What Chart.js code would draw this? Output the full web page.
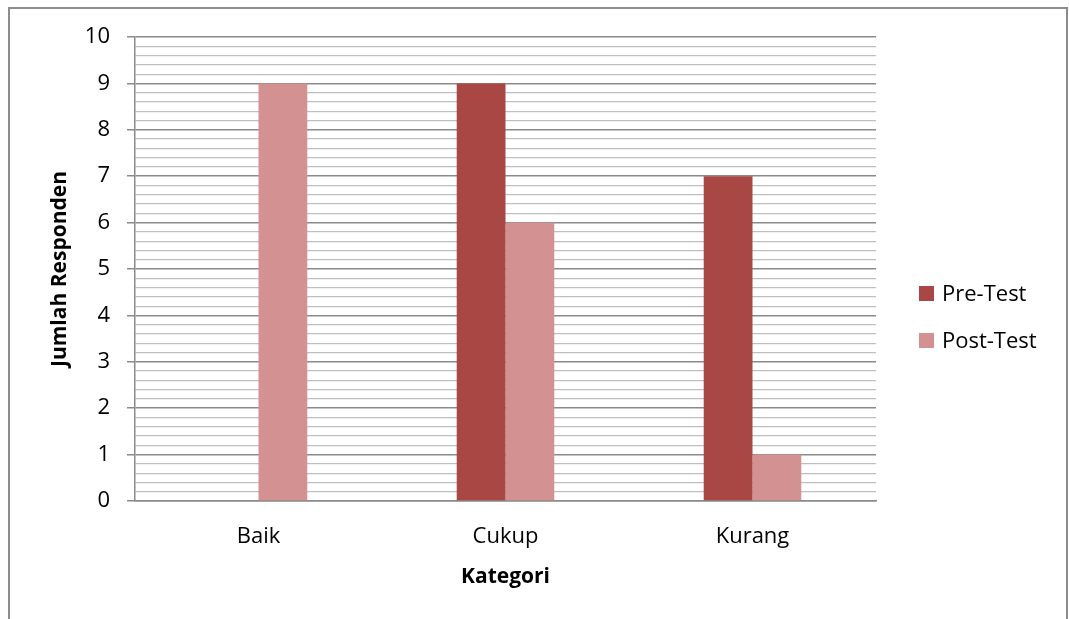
<!DOCTYPE html>
<html>
<head>
    <title>Jumlah Responden per Kategori</title>
    <script src="https://cdn.jsdelivr.net/npm/chart.js"></script>
    <style>
        html, body {
            margin: 0;
            padding: 0;
            background: #ffffff;
            overflow: hidden;
        }
        .frame {
            position: absolute;
            left: 8px;
            top: 7px;
            width: 1060px;
            height: 640px;
            border: 2px solid #8c8c8c;
            box-sizing: border-box;
        }
        #chartWrap {
            position: absolute;
            left: 0;
            top: 0;
            width: 1069px;
            height: 619px;
        }
        .legend {
            position: absolute;
            left: 919px;
            top: 281px;
            font-family: 'Open Sans', sans-serif;
            font-size: 22px;
            line-height: 22px;
            color: #000;
        }
        .legend-item {
            position: relative;
            height: 22px;
            margin-bottom: 25px;
            white-space: nowrap;
        }
        .legend-box {
            position: absolute;
            left: 0;
            top: 5px;
            width: 15px;
            height: 15px;
        }
        .legend-text {
            position: absolute;
            left: 23px;
            top: 0;
        }
    </style>
</head>
<body>
    <div class="frame"></div>
    <div id="chartWrap">
        <canvas id="barChart" width="1069" height="619"></canvas>
    </div>
    <div id="legend" class="legend"></div>

    <script>
        // data
        const categories = ['Baik', 'Cukup', 'Kurang'];
        const seriesNames = ['Pre-Test', 'Post-Test'];
        const preTest = [0, 9, 7];
        const postTest = [9, 6, 1];
        const yTicks = [0, 1, 2, 3, 4, 5, 6, 7, 8, 9, 10];
        const seriesColors = ['#a94744', '#d39291'];

        const majorGrid = '#8a8a8a';
        const minorGrid = '#bfbfbf';

        function isMajor(v) {
            return yTicks.some(t => Math.abs(t - v) < 1e-6);
        }

        const ctx = document.getElementById('barChart').getContext('2d');
        const chart = new Chart(ctx, {
            type: 'bar',
            data: {
                labels: categories,
                datasets: [{
                    label: seriesNames[0],
                    data: preTest,
                    backgroundColor: seriesColors[0],
                    borderWidth: 0
                }, {
                    label: seriesNames[1],
                    data: postTest,
                    backgroundColor: seriesColors[1],
                    borderWidth: 0
                }]
            },
            options: {
                responsive: false,
                animation: false,
                devicePixelRatio: 1,
                categoryPercentage: 0.395,
                barPercentage: 1.0,
                layout: {
                    padding: { left: 30, top: 37, right: 193, bottom: 25 }
                },
                plugins: {
                    legend: { display: false },
                    tooltip: { enabled: false }
                },
                scales: {
                    x: {
                        afterFit: scale => { scale.height = 93; },
                        grid: { display: false, drawTicks: false },
                        border: { display: true, color: majorGrid, width: 1.5 },
                        ticks: {
                            color: '#000',
                            padding: 23,
                            font: { family: 'Open Sans', size: 22 }
                        },
                        title: {
                            display: true,
                            text: 'Kategori',
                            color: '#000',
                            font: { family: 'Open Sans', size: 21, weight: 'bold' },
                            padding: { top: 13, bottom: 4 }
                        }
                    },
                    y: {
                        min: 0,
                        max: 10,
                        afterFit: scale => { scale.width = 105; },
                        border: { display: true, color: majorGrid, width: 1.5 },
                        grid: {
                            color: c => isMajor(c.tick.value) ? majorGrid : minorGrid,
                            lineWidth: c => isMajor(c.tick.value) ? 1.5 : 1.2,
                            tickColor: c => isMajor(c.tick.value) ? majorGrid : 'rgba(0,0,0,0)',
                            tickLength: 8
                        },
                        ticks: {
                            stepSize: 0.2,
                            autoSkip: false,
                            maxTicksLimit: 100,
                            padding: 17,
                            color: '#000',
                            font: { family: 'Open Sans', size: 22 },
                            callback: v => isMajor(v) ? String(Math.round(v)) : ''
                        },
                        title: {
                            display: true,
                            text: 'Jumlah Responden',
                            color: '#000',
                            font: { family: 'Open Sans', size: 21, weight: 'bold' },
                            padding: { top: 17, bottom: 0 }
                        }
                    }
                }
            }
        });

        // legend beside the plot, built from the datasets
        const legend = document.getElementById('legend');
        chart.data.datasets.forEach(ds => {
            const item = document.createElement('div');
            item.className = 'legend-item';
            item.innerHTML = `
                <span class="legend-box" style="background:${ds.backgroundColor}"></span>
                <span class="legend-text">${ds.label}</span>
            `;
            legend.appendChild(item);
        });
    </script>
</body>
</html>
